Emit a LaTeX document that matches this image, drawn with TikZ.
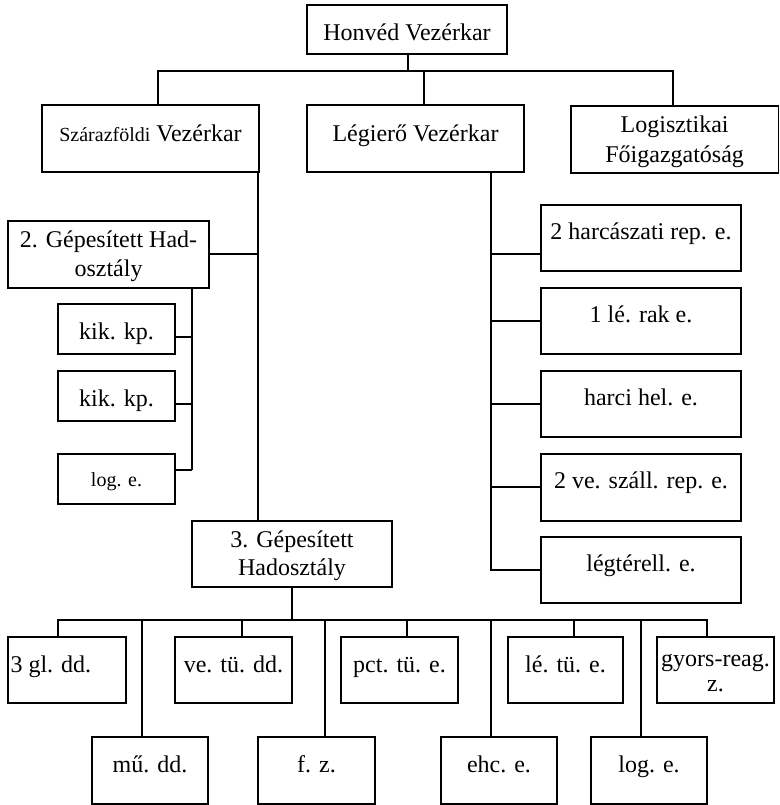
\documentclass[tikz,border=0pt]{standalone}
\usepackage{fontspec}
\setmainfont{Liberation Serif}
\usetikzlibrary{fit}
\begin{document}
\begin{tikzpicture}[x=1pt,y=-1pt,
  box/.style={draw, line width=1.3pt, inner sep=0pt, fill=none},
  txt/.style={inner sep=0pt, anchor=base, font=\fontsize{24}{28}\selectfont},
  small/.style={font=\fontsize{20}{24}\selectfont},
  conn/.style={line width=1.3pt}]
\useasboundingbox (0,0) rectangle (779,805);
% boxes
\newcommand{\bx}[5]{\node[box, fit={(#2,#3) (#4,#5)}] (#1) {};}
\bx{hv}{307}{5}{507}{54}
\bx{szv}{42}{105}{259}{172}
\bx{lgv}{307}{105}{524}{172}
\bx{lgl}{571}{106}{778.3}{173}
\bx{ra}{541}{205}{741}{271}
\bx{rb}{541}{288}{741}{354}
\bx{rc}{541}{371}{741}{437}
\bx{rd}{541}{454}{741}{521}
\bx{re}{541}{537}{741}{603}
\bx{gii}{8}{221}{209}{288}
\bx{ka}{58}{304}{175}{354}
\bx{kb}{58}{371}{175}{421}
\bx{le}{58}{454}{175}{504}
\bx{giii}{192}{521}{392}{587}
\bx{ua}{8}{637}{126}{703}
\bx{ub}{175}{637}{292}{703}
\bx{uc}{341}{637}{458}{703}
\bx{ud}{508}{637}{623}{703}
\bx{ue}{657}{637}{774}{703}
\bx{wa}{92}{737}{208}{804}
\bx{wb}{258}{737}{375}{804}
\bx{wc}{441}{737}{557}{804}
\bx{wd}{591}{737}{707}{804}
% texts
\node[txt] (hvt) at ([yshift=-36pt]hv.north) {Honvéd Vezérkar};
\node[txt] (szvt) at ([yshift=-37pt]szv.north) {{\fontsize{20}{24}\selectfont Szárazföldi} Vezérkar};
\node[txt] (lgvt) at ([yshift=-37pt]lgv.north) {Légierő Vezérkar};
\node[txt] (lglt1) at ([yshift=-27pt]lgl.north) {Logisztikai};
\node[txt] (lglt2) at ([yshift=-57pt]lgl.north) {Főigazgatóság};
\node[txt] (rat) at ([yshift=-35pt]ra.north) {2 harcászati rep. e.};
\node[txt] (rbt) at ([yshift=-35pt]rb.north) {1 lé. rak e.};
\node[txt] (rct) at ([yshift=-35pt]rc.north) {harci hel. e.};
\node[txt] (rdt) at ([yshift=-35pt]rd.north) {2 ve. száll. rep. e.};
\node[txt] (ret) at ([yshift=-35pt]re.north) {légtérell. e.};
\node[txt] (giit1) at ([yshift=-27pt]gii.north) {2. Gépesített Had-};
\node[txt] (giit2) at ([yshift=-56pt]gii.north) {osztály};
\node[txt] (kat) at ([yshift=-36pt]ka.north) {kik. kp.};
\node[txt] (kbt) at ([yshift=-36pt]kb.north) {kik. kp.};
\node[txt, small] (let) at ([yshift=-33pt]le.north) {log. e.};
\node[txt] (giiit1) at ([yshift=-27pt]giii.north) {3. Gépesített};
\node[txt] (giiit2) at ([yshift=-55pt]giii.north) {Hadosztály};
\node[txt, anchor=base west] (uat) at ([xshift=3pt,yshift=-36pt]ua.north west) {3 gl. dd.};
\node[txt] (ubt) at ([yshift=-36pt]ub.north) {ve. tü. dd.};
\node[txt] (uct) at ([yshift=-36pt]uc.north) {pct. tü. e.};
\node[txt] (udt) at ([yshift=-36pt]ud.north) {lé. tü. e.};
\node[txt] (uet1) at ([yshift=-30pt]ue.north) {gyors-reag.};
\node[txt] (uet2) at ([yshift=-55pt]ue.north) {z.};
\node[txt] (wat) at ([yshift=-36pt]wa.north) {mű. dd.};
\node[txt] (wbt) at ([yshift=-36pt]wb.north) {f. z.};
\node[txt] (wct) at ([yshift=-36pt]wc.north) {ehc. e.};
\node[txt] (wdt) at ([yshift=-36pt]wd.north) {log. e.};
% junction coordinates
\coordinate (jt) at (408,71);
\coordinate (jsz) at (158,71);
\coordinate (jlg) at (424,71);
\coordinate (jlo) at (673,71);
\coordinate (vsz) at (258,254);
\coordinate (vg2) at (192,470);
\coordinate (vlg) at (491,570);
\coordinate (bst) at (292,620);
\coordinate (bl) at (58,620);
\coordinate (br) at (707,620);
% top connectors
\draw[conn] (hv.south -| jt) -- (jt);
\draw[conn] (szv.north -| jsz) -- (jsz) -- (jlo) -- (lgl.north -| jlo);
\draw[conn] (lgv.north -| jlg) -- (jlg);
% left branch
\draw[conn] (szv.south -| vsz) -- (giii.north -| vsz);
\draw[conn] (gii.east |- vsz) -- (vsz);
\draw[conn] (gii.south -| vg2) -- (vg2);
\draw[conn] (ka.east |- 0,337) -- (vg2 |- 0,337);
\draw[conn] (kb.east |- 0,404) -- (vg2 |- 0,404);
\draw[conn] (le.east |- vg2) -- (vg2);
% right branch
\draw[conn] (lgv.south -| vlg) -- (vlg) -- (re.west |- vlg);
\draw[conn] (vlg |- 0,254) -- (ra.west |- 0,254);
\draw[conn] (vlg |- 0,321) -- (rb.west |- 0,321);
\draw[conn] (vlg |- 0,404) -- (rc.west |- 0,404);
\draw[conn] (vlg |- 0,487) -- (rd.west |- 0,487);
% bottom branch
\draw[conn] (giii.south -| bst) -- (bst);
\draw[conn] (ua.north -| bl) -- (bl) -- (br) -- (ue.north -| br);
\draw[conn] (ub.north -| 242,0) -- (242,620);
\draw[conn] (uc.north -| 407,0) -- (407,620);
\draw[conn] (ud.north -| 574,0) -- (574,620);
\draw[conn] (wa.north -| 142,0) -- (142,620);
\draw[conn] (wb.north -| 325,0) -- (325,620);
\draw[conn] (wc.north -| 491,0) -- (491,620);
\draw[conn] (wd.north -| 641,0) -- (641,620);
\end{tikzpicture}
\end{document}
